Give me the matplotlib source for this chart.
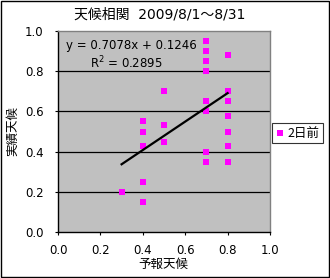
import matplotlib
matplotlib.use("Agg")
import matplotlib.pyplot as plt
from matplotlib.patches import Rectangle
import numpy as np

plt.rcParams['font.family'] = ['Noto Sans CJK JP', 'DejaVu Sans']

# 予報天候 / 実績天候 (2日前)
forecast = [0.3,
            0.4, 0.4, 0.4, 0.4, 0.4,
            0.5, 0.5, 0.5,
            0.7, 0.7, 0.7, 0.7, 0.7, 0.7, 0.7, 0.7,
            0.8, 0.8, 0.8, 0.8, 0.8, 0.8, 0.8]
actual = [0.20,
          0.55, 0.50, 0.43, 0.25, 0.15,
          0.70, 0.53, 0.45,
          0.95, 0.90, 0.85, 0.80, 0.65, 0.60, 0.40, 0.35,
          0.88, 0.70, 0.65, 0.575, 0.50, 0.43, 0.35]
trend_coef = [0.7078, 0.1246]
r2 = 0.2895
ticks = [0.0, 0.2, 0.4, 0.6, 0.8, 1.0]

fig = plt.figure(figsize=(3.3, 2.78), dpi=100)
ax = fig.add_axes([58/330, 1-232/278, 212/330, 201/278])
ax.set_facecolor('#C0C0C0')

ax.scatter(forecast, actual, marker='s', s=22, color='#FF00FF', linewidths=0,
           zorder=3, label='2日前')
xs = np.array([min(forecast), max(forecast)])
ax.plot(xs, np.polyval(trend_coef, xs), color='black', lw=1.6, zorder=4)

ax.set_xlim(0, 1)
ax.set_ylim(0, 1)
ax.set_xticks(ticks)
ax.set_yticks(ticks)
ax.set_xticklabels(['%.1f' % t for t in ticks], family=['DejaVu Sans'])
ax.set_yticklabels(['%.1f' % t for t in ticks], family=['DejaVu Sans'])
ax.tick_params(direction='out', length=2.5, width=0.8, labelsize=8.5, color='black')
ax.tick_params(axis='y', pad=8)
ax.tick_params(axis='x', pad=6)
for y in ticks[1:-1]:
    ax.axhline(y, color='black', lw=0.9, zorder=1)

ax.spines['left'].set_color('black')
ax.spines['bottom'].set_color('black')
ax.spines['top'].set_color('#808080')
ax.spines['right'].set_color('#808080')
for s in ax.spines.values():
    s.set_linewidth(1)

ax.text(0.04, 0.93, 'y = %.4fx + %.4f' % tuple(trend_coef), transform=ax.transAxes,
        fontsize=8.5, va='center', ha='left', family=['DejaVu Sans'])
ax.text(0.15, 0.84, 'R$^2$ = %.4f' % r2, transform=ax.transAxes,
        fontsize=8.5, va='center', ha='left', family=['DejaVu Sans'])

fig.text(160/330, 1-15/278, '天候相関  2009/8/1～8/31', ha='center', va='center',
         fontsize=10, family=['DejaVu Sans', 'Noto Sans CJK JP'])
fig.text(163/330, 1-264/278, '予報天候', ha='center', va='center', fontsize=9)
fig.text(13/330, 1-131/278, '実績天候', ha='center', va='center', rotation=90, fontsize=9)

leg = ax.legend(loc='center left', bbox_to_anchor=(272/330, 1-133/278),
                bbox_transform=fig.transFigure, frameon=True, fancybox=False,
                fontsize=9, handlelength=0.6, handletextpad=0.3, borderpad=0.3,
                borderaxespad=0, markerscale=1)
leg.get_frame().set_edgecolor('black')
leg.get_frame().set_linewidth(0.8)

fig.patches.append(Rectangle((0.002, 0.002), 0.994, 0.994, transform=fig.transFigure,
                             fill=False, edgecolor='black', lw=1))

fig.savefig('out.png', dpi=100)
